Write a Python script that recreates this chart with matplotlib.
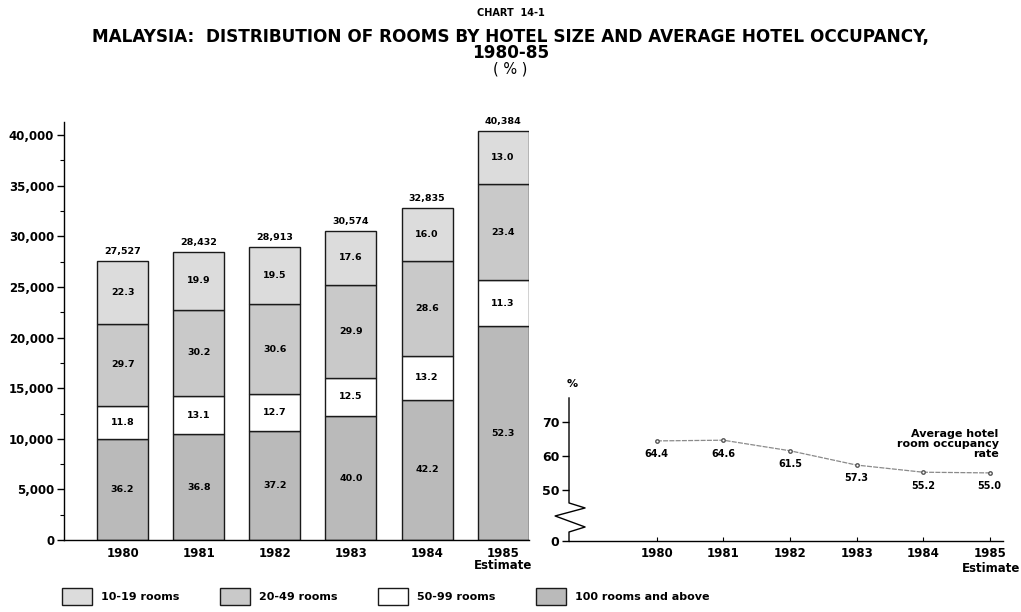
import numpy as np
import matplotlib
matplotlib.use("Agg")
import matplotlib.pyplot as plt
from matplotlib.patches import Patch

# ---- data ----
years = ["1980", "1981", "1982", "1983", "1984", "1985\nEstimate"]
totals = [27527, 28432, 28913, 30574, 32835, 40384]
# shares in % (bottom segment first)
pct_100plus = [36.2, 36.8, 37.2, 40.0, 42.2, 52.3]
pct_50_99 = [11.8, 13.1, 12.7, 12.5, 13.2, 11.3]
pct_20_49 = [29.7, 30.2, 30.6, 29.9, 28.6, 23.4]
pct_10_19 = [22.3, 19.9, 19.5, 17.6, 16.0, 13.0]
occupancy = [64.4, 64.6, 61.5, 57.3, 55.2, 55.0]

series_names = ["100 rooms and above", "50-99 rooms", "20-49 rooms", "10-19 rooms"]
series_pcts = [pct_100plus, pct_50_99, pct_20_49, pct_10_19]
series_colors = ["#bababa", "white", "#c9c9c9", "#dcdcdc"]

plt.rcParams["font.family"] = ["DejaVu Sans"]
plt.rcParams["font.weight"] = "bold"

fig = plt.figure(figsize=(10.21, 6.12), dpi=100)

# titles
fig.text(0.5, 0.979, "CHART  14-1", ha="center", va="center", fontsize=7, weight="bold")
fig.text(0.5, 0.940, "MALAYSIA:  DISTRIBUTION OF ROOMS BY HOTEL SIZE AND AVERAGE HOTEL OCCUPANCY,",
         ha="center", va="center", fontsize=12.2, weight="bold")
fig.text(0.5, 0.913, "1980-85", ha="center", va="center", fontsize=12.2, weight="bold")
fig.text(0.5, 0.887, "( % )", ha="center", va="center", fontsize=10.5, weight="normal")

# ---- left: stacked bars ----
ax = fig.add_axes([0.0627, 0.1176, 0.4554, 0.683])
x = np.arange(len(years))
bottom = np.zeros(len(years))
for name, pcts, col in zip(series_names, series_pcts, series_colors):
    h = np.array(pcts) * np.array(totals) / 100.0
    ax.bar(x, h, bottom=bottom, width=0.67, color=col, edgecolor="#1a1a1a", linewidth=1.0)
    for xi, bi, hi, p in zip(x, bottom, h, pcts):
        ax.text(xi, bi + hi / 2, f"{p:.1f}", ha="center", va="center", fontsize=6.8, weight="bold")
    bottom = bottom + h

for xi, t in zip(x, totals):
    ax.text(xi, t + 500, f"{t:,}", ha="center", va="bottom", fontsize=6.8, weight="bold")

ax.set_xlim(-0.77, 5.34)
ax.set_ylim(0, 41300)
ax.set_yticks(np.arange(0, 40001, 5000))
ax.set_yticks(np.arange(0, 40001, 2500), minor=True)
ax.set_yticklabels([f"{v:,}" for v in range(0, 40001, 5000)], fontsize=8.5)
ax.set_xticks(x)
ax.set_xticklabels(years, fontsize=8.5, linespacing=0.95)
ax.tick_params(axis="x", length=0, pad=5)
ax.tick_params(axis="y", which="major", length=5, width=1, direction="out", pad=2)
ax.tick_params(axis="y", which="minor", length=3, width=0.8, direction="out")
for s in ["top", "right"]:
    ax.spines[s].set_visible(False)
ax.spines["left"].set_linewidth(1.0)
ax.spines["bottom"].set_linewidth(1.0)

# ---- right: occupancy line with broken axis ----
def fwd(v):
    v = np.asarray(v, dtype=float)
    return np.where(v >= 45, v, 35 + v * 10.0 / 45.0)

def inv(y):
    y = np.asarray(y, dtype=float)
    return np.where(y >= 45, y, (y - 35) * 4.5)

ax2 = fig.add_axes([0.5573, 0.116, 0.4251, 0.2337])
ax2.set_yscale("function", functions=(fwd, inv))
ax2.plot(x, occupancy, color="#8a8a8a", linewidth=0.9, linestyle=(0, (4, 1)),
         marker="o", markersize=2.5, markerfacecolor="white", markeredgecolor="#555555")
for xi, v in zip(x, occupancy):
    ax2.annotate(f"{v:.1f}", (xi, v), xytext=(0, -6), textcoords="offset points",
                 ha="center", va="top", fontsize=7, weight="bold")
ax2.set_xlim(-1.32, 5.2)
ax2.set_ylim(0, 77)
ax2.set_yticks([0, 50, 60, 70])
ax2.set_yticklabels(["0", "50", "60", "70"], fontsize=9)
ax2.yaxis.set_minor_locator(matplotlib.ticker.NullLocator())
ax2.set_xticks(x)
ax2.set_xticklabels(["1980", "1981", "1982", "1983", "1984", "1985"], fontsize=8.5)
ax2.tick_params(axis="x", length=3, width=0.8, direction="in", pad=4)
ax2.tick_params(axis="y", length=5, width=1, direction="out", pad=2)
for s in ["top", "right", "left"]:
    ax2.spines[s].set_visible(False)
ax2.spines["bottom"].set_linewidth(1.0)
ax2.text(1.039, -0.15, "Estimate", transform=ax2.transAxes, ha="right", va="top",
         fontsize=8.5, weight="bold")

# axis line with zigzag break
zx = [0, 0, 0.037, -0.032, 0.037, 0, 0]
zy = [1.0, 0.266, 0.231, 0.175, 0.098, 0.063, 0.0]
ax2.plot(zx, zy, transform=ax2.transAxes, color="black", linewidth=1.0, clip_on=False)
ax2.text(0.008, 1.06, "%", transform=ax2.transAxes, ha="center", va="bottom", fontsize=8)

ax2.text(0.99, 0.68, "Average hotel\nroom occupancy\nrate", transform=ax2.transAxes,
         ha="right", va="center", fontsize=8, weight="bold", linespacing=1.0)

# ---- legend ----
order = [3, 2, 1, 0]
handles = [Patch(facecolor=series_colors[i], edgecolor="#1a1a1a", linewidth=1.0) for i in order]
labels = [series_names[i] for i in order]
fig.legend(handles, labels, loc="lower left", bbox_to_anchor=(0.051, -0.005), ncol=4,
           frameon=False, fontsize=8, handlelength=2.7, handleheight=2.0,
           handletextpad=0.8, columnspacing=3.65)

fig.savefig("out.png", dpi=100)
